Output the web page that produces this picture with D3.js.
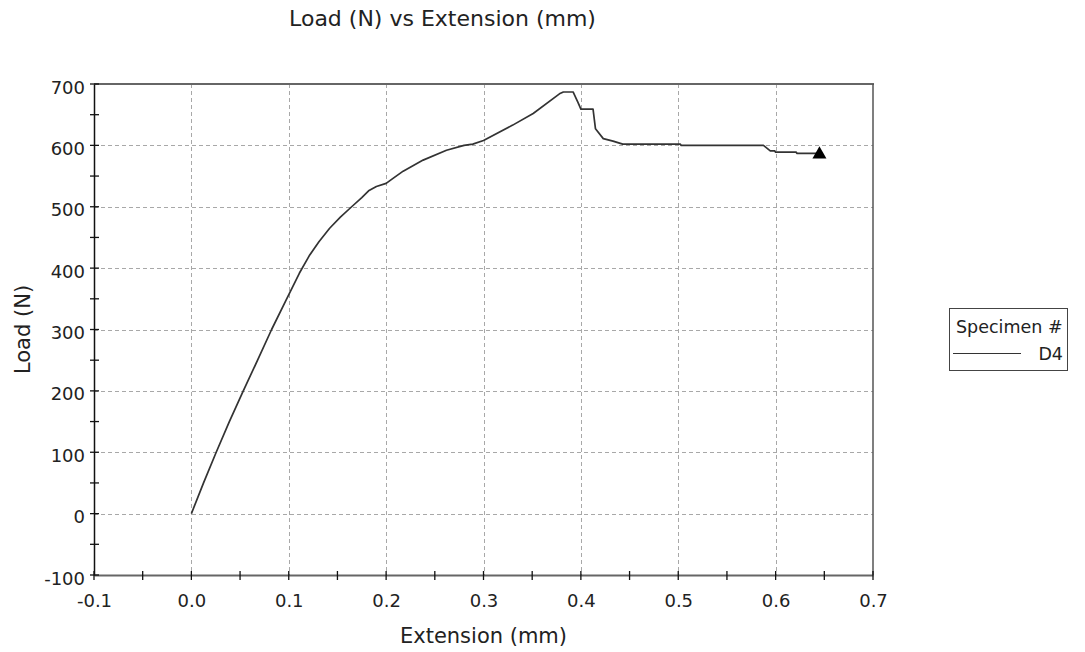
<!DOCTYPE html>
<html>
<head>
<meta charset="utf-8">
<script src="https://cdn.jsdelivr.net/npm/d3@7"></script>
<style>
  html, body { margin: 0; padding: 0; background: #fff; }
  svg { display: block; font-family: "DejaVu Sans", Verdana, sans-serif; }
</style>
</head>
<body>
<svg id="chart" width="1085" height="652"></svg>
<script>
// ---- data ----
const extension = [0, 0.0125, 0.0255, 0.039, 0.0533, 0.068, 0.0824, 0.097, 0.111, 0.121, 0.131, 0.142, 0.153, 0.1646, 0.175, 0.182, 0.19, 0.2, 0.206, 0.2175, 0.238, 0.262, 0.28, 0.289, 0.3, 0.33, 0.351, 0.378, 0.382, 0.392, 0.397, 0.4, 0.4125, 0.415, 0.423, 0.433, 0.443, 0.502, 0.503, 0.5875, 0.5945, 0.599, 0.6, 0.621, 0.622, 0.645];
const load      = [0, 50, 100, 150, 200, 250, 300, 347, 392, 420, 443, 465, 483, 500, 515, 526, 533, 538, 545, 558, 576, 592, 600, 602, 608, 633, 652, 684, 687, 687, 670, 659, 659, 627, 611, 607, 602, 602, 600, 600, 591, 591, 589, 589, 587, 587];
const xTicks = [-0.1, 0.0, 0.1, 0.2, 0.3, 0.4, 0.5, 0.6, 0.7];
const yTicks = [-100, 0, 100, 200, 300, 400, 500, 600, 700];
const xMinorTicks = [-0.05, 0.05, 0.15, 0.25, 0.35, 0.45, 0.55, 0.65];
const yMinorTicks = [-50, 50, 150, 250, 350, 450, 550, 650];
const seriesName = "D4";
const legendTitle = "Specimen #";

// ---- layout ----
const svg = d3.select("#chart");
const L = 94, R = 873, T = 84, B = 575;
const x = d3.scaleLinear().domain([-0.1, 0.7]).range([L, R]);
const y = d3.scaleLinear().domain([-100, 700]).range([B, T]);

// grid
const grid = svg.append("g").attr("stroke", "#a8a8a8").attr("stroke-width", 1).attr("stroke-dasharray", "4,3");
grid.selectAll("line.gx").data(xTicks.filter(d => d > -0.1 && d < 0.7)).enter().append("line")
  .attr("x1", d => Math.round(x(d)) + 0.5).attr("x2", d => Math.round(x(d)) + 0.5)
  .attr("y1", T).attr("y2", B);
grid.selectAll("line.gy").data(yTicks.filter(d => d > -100 && d < 700)).enter().append("line")
  .attr("y1", d => Math.round(y(d)) + 0.5).attr("y2", d => Math.round(y(d)) + 0.5)
  .attr("x1", L).attr("x2", R);

// frame: top and right
svg.append("line").attr("x1", L).attr("x2", R + 1).attr("y1", T).attr("y2", T).attr("stroke", "#666").attr("stroke-width", 2);
svg.append("line").attr("x1", R).attr("x2", R).attr("y1", T).attr("y2", B).attr("stroke", "#555").attr("stroke-width", 1.5);

// axes via d3
const fmtX = d => d.toFixed(1);
const fmtY = d => String(d);
const xAxis = svg.append("g").attr("transform", `translate(0,${B})`)
  .call(d3.axisBottom(x).tickValues(xTicks).tickFormat(fmtX).tickSizeInner(0).tickSizeOuter(0).tickPadding(19));
xAxis.select(".domain").attr("stroke", "#666").attr("stroke-width", 2);
xAxis.selectAll("text").attr("font-size", "18px").attr("fill", "#222").attr("font-family", "DejaVu Sans, Verdana, sans-serif");

const yAxis = svg.append("g").attr("transform", `translate(${L},0)`)
  .call(d3.axisLeft(y).tickValues(yTicks).tickFormat(fmtY).tickSizeInner(0).tickSizeOuter(0).tickPadding(9));
yAxis.select(".domain").attr("stroke", "#111").attr("stroke-width", 1.5);
yAxis.selectAll("text").attr("font-size", "18px").attr("fill", "#222").attr("dy", "0.5em").attr("font-family", "DejaVu Sans, Verdana, sans-serif");

// ticks crossing axes (major + minor)
const tk = svg.append("g").attr("stroke", "#111").attr("stroke-width", 1.3);
tk.selectAll("line.tx").data(xTicks.concat(xMinorTicks)).enter().append("line")
  .attr("x1", d => x(d)).attr("x2", d => x(d)).attr("y1", B - 4).attr("y2", B + 5);
tk.selectAll("line.ty").data(yTicks.concat(yMinorTicks)).enter().append("line")
  .attr("y1", d => y(d)).attr("y2", d => y(d)).attr("x1", L - 4).attr("x2", L + 5);

// data line
const pts = extension.map((e, i) => [e, load[i]]);
svg.append("path").datum(pts)
  .attr("fill", "none").attr("stroke", "#333").attr("stroke-width", 1.7).attr("stroke-linejoin", "round")
  .attr("d", d3.line().x(d => x(d[0])).y(d => y(d[1])));

// end marker
const last = pts[pts.length - 1];
svg.append("path")
  .attr("d", d3.symbol().type(d3.symbolTriangle).size(85)())
  .attr("transform", `translate(${x(last[0])},${y(last[1]) + 1})`)
  .attr("fill", "#000");

// titles
svg.append("text").attr("x", 442.5).attr("y", 26).attr("text-anchor", "middle")
  .attr("font-size", "22px").attr("fill", "#222").text("Load (N) vs Extension (mm)");
svg.append("text").attr("x", (L + R) / 2).attr("y", 643).attr("text-anchor", "middle")
  .attr("font-size", "21px").attr("fill", "#222").text("Extension (mm)");
svg.append("text").attr("transform", `translate(30,${(T + B) / 2}) rotate(-90)`).attr("text-anchor", "middle")
  .attr("font-size", "21px").attr("fill", "#222").text("Load (N)");

// legend
const lg = svg.append("g");
lg.append("rect").attr("x", 949.5).attr("y", 308.5).attr("width", 118).attr("height", 62)
  .attr("fill", "#fff").attr("stroke", "#444").attr("stroke-width", 1);
lg.append("text").attr("x", 956).attr("y", 332.5).attr("font-size", "17.5px").attr("fill", "#222").text(legendTitle);
lg.append("line").attr("x1", 953).attr("x2", 1021).attr("y1", 353.5).attr("y2", 353.5).attr("stroke", "#333").attr("stroke-width", 1.2);
lg.append("text").attr("x", 1063).attr("y", 359.5).attr("text-anchor", "end").attr("font-size", "17.5px").attr("fill", "#222").text(seriesName);
</script>
</body>
</html>
